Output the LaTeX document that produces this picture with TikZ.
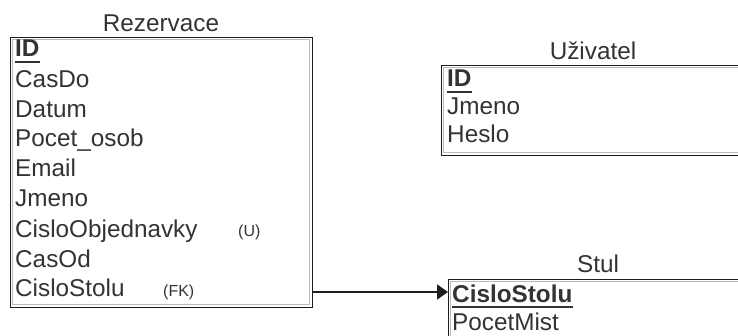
\documentclass[tikz,border=0pt]{standalone}
\usepackage{fontspec}
\setmainfont{Liberation Sans}
\usetikzlibrary{arrows.meta}
\definecolor{ink}{HTML}{333333}
\definecolor{edge}{HTML}{1E1E1E}
\begin{document}
\begin{tikzpicture}[x=1pt,y=-1pt,
  table/.style={draw=edge,line width=1.4pt,inner sep=0pt,anchor=north west},
  field/.style={anchor=base west,inner sep=0pt,text=ink,font=\fontsize{24.3}{27}\selectfont},
  keyfield/.style={field,font=\fontsize{24.3}{27}\selectfont\bfseries},
  tag/.style={anchor=base west,inner sep=0pt,text=ink,font=\fontsize{16}{18}\selectfont},
  title/.style={anchor=base,inner sep=0pt,text=ink,font=\fontsize{24.3}{27}\selectfont},
  keyline/.style={draw=ink,line width=1.8pt},
  fkarrow/.style={draw=edge,line width=1.4pt,-{Triangle[length=11pt,width=15pt]}}]
\useasboundingbox (0,0) rectangle (738,336);
\fill[white] (0,0) rectangle (738,336);

% Rezervace table
\node[table,minimum width=302pt,minimum height=270pt] (rez) at (10,37) {};
\draw[gray!55,line width=0.7pt] (12.5,39.5) rectangle (309.5,304.5);
\node[title] (rezt) at (161,32) {Rezervace};
\node[keyfield] (rid) at (15,57) {ID};
\draw[keyline] ([yshift=-5pt]rid.base west) -- ([yshift=-5pt]rid.base east);
\node[field] (r1) at (15,88) {CasDo};
\node[field] (r2) at (15,118) {Datum};
\node[field] (r3) at (15,147) {Pocet\_osob};
\node[field] (r4) at (15,177) {Email};
\node[field] (r5) at (15,207) {Jmeno};
\node[field] (r6) at (15,238) {CisloObjednavky};
\node[tag] (r6t) at (238,237) {(U)};
\node[field] (r7) at (15,268) {CasOd};
\node[field] (r8) at (15,297) {CisloStolu};
\node[tag] (r8t) at (163,297) {(FK)};

% Uzivatel table
\node[table,minimum width=304pt,minimum height=90pt] (uz) at (441,65) {};
\draw[gray!55,line width=0.7pt] (443.5,67.5) rectangle (742.5,152.5);
\node[title] (uzt) at (593,60) {Uživatel};
\node[keyfield] (uid) at (447,87) {ID};
\draw[keyline] ([yshift=-5pt]uid.base west) -- ([yshift=-5pt]uid.base east);
\node[field] (u1) at (447,115) {Jmeno};
\node[field] (u2) at (447,143) {Heslo};

% Stul table
\node[table,minimum width=300pt,minimum height=80pt] (stul) at (448,279) {};
\draw[gray!55,line width=0.7pt] (450.5,281.5) rectangle (745.5,356.5);
\node[title] (stult) at (598,273) {Stul};
\node[keyfield] (scs) at (452,302) {CisloStolu};
\draw[keyline] ([yshift=-5pt]scs.base west) -- ([yshift=-5pt]scs.base east);
\node[field] (s1) at (452,330) {PocetMist};

% foreign key reference
\coordinate (fkout) at (rez.east |- 0,292);
\coordinate (fkin) at (stul.west |- 0,292);
\draw[fkarrow] (fkout) -- (fkin);
\end{tikzpicture}
\end{document}
